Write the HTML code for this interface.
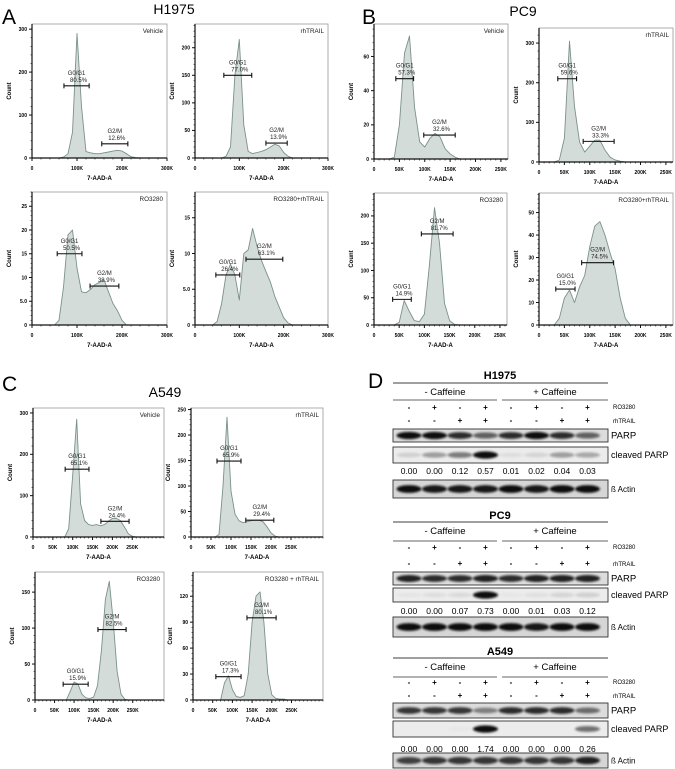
<!DOCTYPE html>
<html><head><meta charset="utf-8"><style>
html,body{margin:0;padding:0;background:#fff;}
svg{display:block;font-family:"Liberation Sans",Arial,sans-serif;}
</style></head><body>
<svg id="fig" width="675" height="769" viewBox="0 0 675 769" xmlns="http://www.w3.org/2000/svg">
<defs><filter id="blur" x="-20%" y="-50%" width="140%" height="200%"><feGaussianBlur stdDeviation="1.1"/></filter></defs>
<text x="2" y="24" font-size="21">A</text>
<text x="174" y="14" font-size="14" text-anchor="middle">H1975</text>
<text x="362" y="24" font-size="21">B</text>
<text x="523" y="16" font-size="14" text-anchor="middle">PC9</text>
<text x="2" y="391" font-size="21">C</text>
<text x="165" y="397" font-size="14" text-anchor="middle">A549</text>
<text x="368" y="388" font-size="21">D</text>
<g id="hists"></g>
<g id="blots"></g>
</svg>
<script>
// ---- histogram data (counts per 10K bin starting at 0) ----
const h1975VehicleCounts = [0,0,0,0,0,0,0,2,10,60,290,120,15,12,10,10,12,14,16,18,16,10,3,1,0,0,0,0,0,0,0];
const h1975TrailCounts   = [0,0,0,0,0,0,0,3,20,150,215,60,12,8,10,12,15,20,25,22,10,3,0,0,0,0,0,0,0,0,0];
const h1975RoCounts      = [0,0,0,0,0,0,1,8,19,20,12,7,6.8,7.5,8.5,9,9.5,7,4.5,3,1,0,0,0,0,0,0,0,0,0,0];
const h1975ComboCounts   = [0,0,0,0,0,0.5,3,7,8.5,7,3.5,10,10.5,13.5,11,9,7.5,6,4,2.5,1,0.3,0,0,0,0,0,0,0,0,0];
const pc9VehicleCounts   = [0,0,0,0,1,20,62,72,30,10,7,12,15,13,6,3,1,0,0,0,0,0,0,0,0,0,0];
const pc9TrailCounts     = [0,0,0,0,5,60,305,140,50,25,40,55,55,30,12,5,2,0,0,0,0,0,0,0,0,0,0];
const pc9RoCounts        = [0,0,0,0,0,5,45,25,8,6,20,110,215,150,40,8,1,0,0,0,0,0,0,0,0,0,0];
const pc9ComboCounts     = [0,0,0,0,3,12,15.5,10,17,22,35,44,46,40,32,25,12,3,0,0,0,0,0,0,0,0,0];
const a549VehicleCounts  = [0,0,0,0,0,0,0,0,0,20,150,285,80,40,30,28,30,27,30,38,45,45,40,25,8,2,0,0,0,0,0,0,0,0];
const a549TrailCounts    = [0,0,0,0,0,0,0,5,100,235,90,45,32,28,30,32,33,33,30,20,8,2,0,0,0,0,0,0,0,0,0,0,0,0];
const a549RoCounts       = [0,0,0,0,0,0,0,0,0,12,25,22,8,3,2,4,20,70,140,165,110,40,8,1,0,0,0,0,0,0,0,0,0,0];
const a549ComboCounts    = [0,0,0,0,0,0,0,0,20,28,12,4,3,5,30,90,120,125,90,30,6,2,1,1,0,0,0,0,0,0,0,0,0,0];
// gates: [x1 (K), x2 (K), count level]
const h1975VehicleGates = [[71,127,168],[155,213,33]];
const h1975TrailGates   = [[65,128,150],[160,208,27]];
const h1975RoGates      = [[56,111,15],[129,193,8.2]];
const h1975ComboGates   = [[47,101,7],[115,198,9.2]];
const pc9VehicleGates   = [[43,78,47],[98,160,14]];
const pc9TrailGates     = [[37,74,210],[87,148,52]];
const pc9RoGates        = [[37,74,47],[94,157,167]];
const pc9ComboGates     = [[33,71,16],[84,147,27.7]];
const a549VehicleGates  = [[81,141,164],[171,242,38]];
const a549TrailGates    = [[65,125,149],[137,207,33]];
const a549RoGates       = [[72,136,22],[161,233,98]];
const a549ComboGates    = [[58,122,27],[137,211,95]];
const gateNames = ["G0/G1","G2/M"];
const h1975VehiclePct = ["80.5%","12.6%"], h1975TrailPct = ["77.0%","13.9%"], h1975RoPct = ["50.5%","38.9%"], h1975ComboPct = ["26.4%","63.1%"];
const pc9VehiclePct = ["57.3%","32.6%"], pc9TrailPct = ["59.6%","33.3%"], pc9RoPct = ["14.9%","81.7%"], pc9ComboPct = ["15.0%","74.5%"];
const a549VehiclePct = ["65.1%","24.4%"], a549TrailPct = ["65.9%","29.4%"], a549RoPct = ["15.9%","82.5%"], a549ComboPct = ["17.3%","80.1%"];
// axis ticks
const xTicksA = [0,100,200,300];
const xTicksB = [0,50,100,150,200,250];
const yTicksH1975Vehicle = [0,100,200,300], yTicksH1975Trail = [0,50,100,150,200], yTicksH1975Ro = [0,5,10,15,20,25], yTicksH1975Combo = [0,5,10,15];
const yTicksPc9Vehicle = [0,20,40,60], yTicksPc9Trail = [0,100,200,300], yTicksPc9Ro = [0,50,100,150,200], yTicksPc9Combo = [0,10,20,30,40,50];
const yTicksA549Vehicle = [0,100,200,300], yTicksA549Trail = [0,50,100,150,200,250], yTicksA549Ro = [0,50,100,150], yTicksA549Combo = [0,30,60,90,120];

const NS = "http://www.w3.org/2000/svg";
function el(tag, attrs, parent, text){
  const e = document.createElementNS(NS, tag);
  for (const k in attrs) e.setAttribute(k, attrs[k]);
  if (text !== undefined) e.textContent = text;
  parent.appendChild(e); return e;
}
function fmtY(v, ticks){ return (ticks[1] === 5 && v === 5) ? "5.0" : String(v); }
function fmtX(v){ return v === 0 ? "0" : v + "K"; }

function hist(cfg){
  const root = document.getElementById("hists");
  const g = el("g", {}, root);
  
  
  const X = v => cfg.x + v / cfg.xmax * cfg.w;
  const Y = v => cfg.y + cfg.h - v / cfg.ymax * cfg.h;
  const frame = el("rect", {x:cfg.x, y:cfg.y, width:cfg.w, height:cfg.h, fill:"#fff", stroke:"#9a9a9a", "stroke-width":0.8}, g);
  
  
  let d = "M" + X(0) + "," + Y(0);
  cfg.counts.forEach((c, i) => { const xv = i * 10; if (xv <= cfg.xmax) d += " L" + X(xv).toFixed(1) + "," + Y(Math.min(c, cfg.ymax)).toFixed(1); });
  d += " L" + X(Math.min((cfg.counts.length - 1) * 10, cfg.xmax)) + "," + Y(0) + " Z";
  const area = el("path", {d:d, fill:"#d3dcd9", stroke:"#7b918c", "stroke-width":0.9, "stroke-linejoin":"round"}, g);
  
  
  const axY = el("line", {x1:cfg.x, y1:cfg.y, x2:cfg.x, y2:cfg.y+cfg.h, stroke:"#111", "stroke-width":1.2}, g);
  
  
  const axX = el("line", {x1:cfg.x, y1:cfg.y+cfg.h, x2:cfg.x+cfg.w, y2:cfg.y+cfg.h, stroke:"#111", "stroke-width":1.2}, g);
  
  
  const ystep = cfg.yticks[1] - cfg.yticks[0];
  for (let v = 0; v <= cfg.ymax; v += ystep / 5) {
    el("line", {x1:cfg.x-1.5, x2:cfg.x, y1:Y(v), y2:Y(v), stroke:"#111", "stroke-width":0.6}, g);
  }
  cfg.yticks.forEach(v => {
    el("line", {x1:cfg.x-3, x2:cfg.x, y1:Y(v), y2:Y(v), stroke:"#111", "stroke-width":1}, g);
    const t = el("text", {x:cfg.x-5, y:Y(v)+1.8, "font-size":5, "font-weight":"bold", "text-anchor":"end"}, g, fmtY(v, cfg.yticks));
    
    
  });
  const xstep = cfg.xticks[1] - cfg.xticks[0];
  for (let v = 0; v <= cfg.xmax; v += xstep / 5) {
    el("line", {x1:X(v), x2:X(v), y1:cfg.y+cfg.h, y2:cfg.y+cfg.h+1.5, stroke:"#111", "stroke-width":0.6}, g);
  }
  cfg.xticks.forEach(v => {
    el("line", {x1:X(v), x2:X(v), y1:cfg.y+cfg.h, y2:cfg.y+cfg.h+3, stroke:"#111", "stroke-width":1}, g);
    const t = el("text", {x:X(v), y:cfg.y+cfg.h+12, "font-size":5, "font-weight":"bold", "text-anchor":"middle"}, g, fmtX(v));
    
    
  });
  const xt = el("text", {x:cfg.x+cfg.w/2, y:cfg.y+cfg.h+22, "font-size":6, "font-weight":"bold", "text-anchor":"middle"}, g, "7-AAD-A");
  
  
  const yx = cfg.x - 21, yy = cfg.y + cfg.h/2;
  const yt = el("text", {x:yx, y:yy, "font-size":6, "font-weight":"bold", "text-anchor":"middle", transform:"rotate(-90 "+yx+" "+yy+")"}, g, "Count");
  
  
  const tag = el("text", {x:cfg.x+cfg.w-4, y:cfg.y+9, "font-size":6.3, "text-anchor":"end", fill:"#222"}, g, cfg.tag);
  
  
  cfg.gates.forEach((gt, i) => {
    const x1 = X(gt[0]), x2 = X(gt[1]), yv = Y(gt[2]);
    const gg = el("g", {stroke:"#111", "stroke-width":1.1}, g);
    
    
    el("line", {x1:x1, x2:x2, y1:yv, y2:yv}, gg);
    el("line", {x1:x1, x2:x1, y1:yv-2.5, y2:yv+2.5}, gg);
    el("line", {x1:x2, x2:x2, y1:yv-2.5, y2:yv+2.5}, gg);
    const cx = (x1 + x2) / 2;
    const t1 = el("text", {x:cx, y:yv-11, "font-size":6, "text-anchor":"middle", fill:"#222"}, g, gateNames[i]);
    
    
    const t2 = el("text", {x:cx+2, y:yv-4, "font-size":6, "text-anchor":"middle", fill:"#222"}, g, cfg.pct[i]);
    
    
  });
}

hist({name:"hist-h1975-vehicle", x:32, y:24, w:135, h:134, xmax:300, ymax:312, xticks:xTicksA, yticks:yTicksH1975Vehicle, counts:h1975VehicleCounts, gates:h1975VehicleGates, pct:h1975VehiclePct, tag:"Vehicle"});
hist({name:"hist-h1975-rhtrail", x:195, y:24, w:133, h:134, xmax:300, ymax:243, xticks:xTicksA, yticks:yTicksH1975Trail, counts:h1975TrailCounts, gates:h1975TrailGates, pct:h1975TrailPct, tag:"rhTRAIL"});
hist({name:"hist-h1975-ro3280", x:32, y:192, w:135, h:133, xmax:300, ymax:28, xticks:xTicksA, yticks:yTicksH1975Ro, counts:h1975RoCounts, gates:h1975RoGates, pct:h1975RoPct, tag:"RO3280"});
hist({name:"hist-h1975-combo", x:195, y:192, w:133, h:133, xmax:300, ymax:18.6, xticks:xTicksA, yticks:yTicksH1975Combo, counts:h1975ComboCounts, gates:h1975ComboGates, pct:h1975ComboPct, tag:"RO3280+rhTRAIL"});

hist({name:"hist-pc9-vehicle", x:374, y:24, w:134, h:135, xmax:264, ymax:79, xticks:xTicksB, yticks:yTicksPc9Vehicle, counts:pc9VehicleCounts, gates:pc9VehicleGates, pct:pc9VehiclePct, tag:"Vehicle"});
hist({name:"hist-pc9-rhtrail", x:539, y:28, w:134, h:134, xmax:264, ymax:338, xticks:xTicksB, yticks:yTicksPc9Trail, counts:pc9TrailCounts, gates:pc9TrailGates, pct:pc9TrailPct, tag:"rhTRAIL"});
hist({name:"hist-pc9-ro3280", x:374, y:193, w:133, h:132, xmax:264, ymax:242, xticks:xTicksB, yticks:yTicksPc9Ro, counts:pc9RoCounts, gates:pc9RoGates, pct:pc9RoPct, tag:"RO3280"});
hist({name:"hist-pc9-combo", x:539, y:193, w:134, h:132, xmax:264, ymax:58.7, xticks:xTicksB, yticks:yTicksPc9Combo, counts:pc9ComboCounts, gates:pc9ComboGates, pct:pc9ComboPct, tag:"RO3280+rhTRAIL"});

hist({name:"hist-a549-vehicle", x:33, y:408, w:131, h:129, xmax:330, ymax:312, xticks:xTicksB, yticks:yTicksA549Vehicle, counts:a549VehicleCounts, gates:a549VehicleGates, pct:a549VehiclePct, tag:"Vehicle"});
hist({name:"hist-a549-rhtrail", x:191, y:408, w:132, h:129, xmax:330, ymax:253, xticks:xTicksB, yticks:yTicksA549Trail, counts:a549TrailCounts, gates:a549TrailGates, pct:a549TrailPct, tag:"rhTRAIL"});
hist({name:"hist-a549-ro3280", x:35, y:572, w:129, h:128, xmax:330, ymax:178, xticks:xTicksB, yticks:yTicksA549Ro, counts:a549RoCounts, gates:a549RoGates, pct:a549RoPct, tag:"RO3280"});
hist({name:"hist-a549-combo", x:193, y:572, w:130, h:128, xmax:330, ymax:148, xticks:xTicksB, yticks:yTicksA549Combo, counts:a549ComboCounts, gates:a549ComboGates, pct:a549ComboPct, tag:"RO3280 + rhTRAIL"});

// ---- western blot data ----
const roSigns    = ["-","+","-","+","-","+","-","+"];
const trailSigns = ["-","-","+","+","-","-","+","+"];
const h1975Parp = [1,1,0.85,0.6,0.85,1,0.85,0.6];
const h1975Cleaved = [0.12,0.35,0.5,1,0.06,0.1,0.35,0.3];
const h1975Actin = [1,0.95,0.95,0.95,1,0.95,1,1];
const h1975Nums = ["0.00","0.00","0.12","0.57","0.01","0.02","0.04","0.03"];
const pc9Parp = [0.9,0.85,0.85,0.9,0.85,0.9,0.9,0.9];
const pc9Cleaved = [0.03,0.06,0.08,1,0.02,0.05,0.1,0.12];
const pc9Actin = [1,1,1,1,1,0.95,1,1];
const pc9Nums = ["0.00","0.00","0.07","0.73","0.00","0.01","0.03","0.12"];
const a549Parp = [0.8,0.8,0.8,0.45,0.85,0.85,0.85,0.55];
const a549Cleaved = [0,0,0.02,1,0,0,0,0.55];
const a549Actin = [0.75,0.8,0.8,0.8,0.8,0.8,0.8,0.9];
const a549Nums = ["0.00","0.00","0.00","1.74","0.00","0.00","0.00","0.26"];

function blot(cfg){
  const root = document.getElementById("blots");
  const g = el("g", {}, root);
  
  
  const L = 393, R = 608, lane = i => 409 + i * 25.5;
  const t = el("text", {x:500, y:cfg.title, "font-size":11, "font-weight":"bold", "text-anchor":"middle"}, g, cfg.label);
  
  
  el("line", {x1:L, x2:R, y1:cfg.line, y2:cfg.line, stroke:"#666", "stroke-width":1.2}, g);
  const c1 = el("text", {x:445, y:cfg.caff, "font-size":9.5, "text-anchor":"middle"}, g, "- Caffeine");
  
  
  const c2 = el("text", {x:555, y:cfg.caff, "font-size":9.5, "text-anchor":"middle"}, g, "+ Caffeine");
  
  
  el("line", {x1:L, x2:497, y1:cfg.under, y2:cfg.under, stroke:"#666", "stroke-width":1}, g);
  el("line", {x1:502, x2:R, y1:cfg.under, y2:cfg.under, stroke:"#666", "stroke-width":1}, g);
  for (let i = 0; i < 8; i++){
    const a = el("text", {x:lane(i), y:cfg.ro, "font-size":8, "font-weight":"bold", "text-anchor":"middle"}, g, roSigns[i]);
    
    
    const b = el("text", {x:lane(i), y:cfg.tr, "font-size":8, "font-weight":"bold", "text-anchor":"middle"}, g, trailSigns[i]);
    
    
  }
  const r1 = el("text", {x:613, y:cfg.ro-1, "font-size":6}, g, "RO3280");
  
  
  const r2 = el("text", {x:613, y:cfg.tr, "font-size":6}, g, "rhTRAIL");
  
  
  const strip = (box, vals, bg, label, fs, nm, thick) => {
    const sg = el("g", {}, g);
    
    
    el("rect", {x:L, y:box[0], width:R-L, height:box[1]-box[0], fill:bg, stroke:"#333", "stroke-width":0.9}, sg);
    const cy = (box[0]+box[1])/2;
    vals.forEach((v, i) => {
      if (v <= 0) return;
      el("ellipse", {cx:lane(i), cy:cy, rx:12.5, ry:thick*(0.55+0.45*v)+0.6, fill:"#111", opacity:Math.min(1, v), filter:"url(#blur)"}, sg);
    });
    const lt = el("text", {x:611, y:cy+3, "font-size":fs}, sg, label);
    
    
  };
  strip(cfg.parp, cfg.parpVals, "#dcdcdc", "PARP", 9.5, "parp-strip", 3);
  strip(cfg.cleaved, cfg.cleavedVals, "#ececec", "cleaved PARP", 9, "cleaved-parp-strip", 3);
  for (let i = 0; i < 8; i++){
    const n = el("text", {x:lane(i), y:cfg.nums, "font-size":8.5, "text-anchor":"middle"}, g, cfg.numVals[i]);
    
    
  }
  strip(cfg.actin, cfg.actinVals, "#d6d6d6", "ß Actin", 8, "actin-strip", 3.3);
}
blot({name:"blot-h1975", label:"H1975", title:379, line:383, caff:395, under:400, ro:410, tr:423, parp:[429,442], cleaved:[447,463], nums:474, actin:[480,498], parpVals:h1975Parp, cleavedVals:h1975Cleaved, numVals:h1975Nums, actinVals:h1975Actin});
blot({name:"blot-pc9", label:"PC9", title:519, line:522, caff:534, under:541, ro:550, tr:566, parp:[572,585], cleaved:[588,602], nums:614, actin:[617,637], parpVals:pc9Parp, cleavedVals:pc9Cleaved, numVals:pc9Nums, actinVals:pc9Actin});
blot({name:"blot-a549", label:"A549", title:655, line:658, caff:670, under:677, ro:685, tr:698, parp:[703,718], cleaved:[721,737], nums:752, actin:[753,768], parpVals:a549Parp, cleavedVals:a549Cleaved, numVals:a549Nums, actinVals:a549Actin});
</script>
</body></html>
